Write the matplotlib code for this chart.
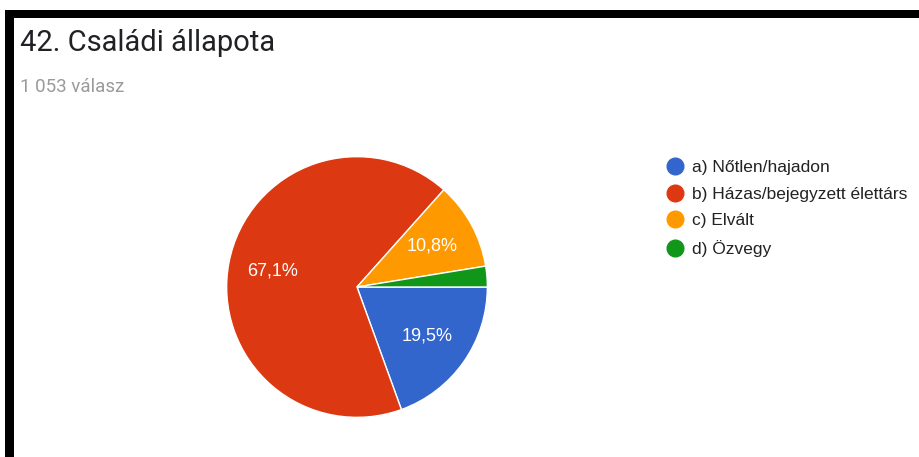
import matplotlib
matplotlib.use('Agg')
import matplotlib.pyplot as plt
from matplotlib.patches import Rectangle
from matplotlib.lines import Line2D

plt.rcParams['font.family'] = ['Roboto', 'DejaVu Sans']

# answers to question 42 (1 053 responses)
labels = ['a) Nőtlen/hajadon', 'b) Házas/bejegyzett élettárs', 'c) Elvált', 'd) Özvegy']
counts = [205, 707, 114, 27]
colors = ['#3366cc', '#dc3912', '#ff9900', '#109618']
title = '42. Családi állapota'
subtitle = '1 053 válasz'

W, H = 919, 457
fig = plt.figure(figsize=(W / 100, H / 100), dpi=100)
fig.patch.set_facecolor('white')

# black frame along the top and left edge
fig.patches.append(Rectangle((5 / W, 0), 9 / W, (H - 10) / H, transform=fig.transFigure,
                             facecolor='black', edgecolor='none'))
fig.patches.append(Rectangle((5 / W, (H - 18) / H), (W - 5) / W, 8 / H, transform=fig.transFigure,
                             facecolor='black', edgecolor='none'))

fig.text(20 / W, 1 - 43 / H, title, fontsize=21, color='#202124', va='center', ha='left')
fig.text(20 / W, 1 - 87 / H, subtitle, fontsize=13.5, color='#9a9a9a', va='center', ha='left')


def pct_label(p):
    if p < 5:
        return ''
    return ('%.1f%%' % p).replace('.', ',')


cx, cy, r = 357, 287, 131
ax = fig.add_axes([(cx - r) / W, (H - cy - r) / H, 2 * r / W, 2 * r / H])
wedges, texts, autotexts = ax.pie(counts, colors=colors, startangle=0, counterclock=False,
                                  autopct=pct_label, pctdistance=0.66,
                                  wedgeprops=dict(edgecolor='white', linewidth=1))
for t in autotexts:
    t.set_color('white')
    t.set_fontsize(13)
    t.set_family(['Liberation Sans', 'DejaVu Sans'])
ax.set_xlim(-1.005, 1.005)
ax.set_ylim(-1.005, 1.005)
ax.set_aspect('equal')
ax.axis('off')

handles = [Line2D([], [], marker='o', linestyle='none', markersize=12,
                  markerfacecolor=c, markeredgecolor=c) for c in colors]
leg = fig.legend(handles, labels, loc='upper left', bbox_to_anchor=(668 / W, 1 - 160 / H),
                 frameon=False, prop={'family': ['Liberation Sans', 'DejaVu Sans'], 'size': 12.5},
                 labelcolor='#222222', handlelength=0.8, handletextpad=0.6,
                 labelspacing=0.66, borderaxespad=0, borderpad=0)

plt.savefig('out.png', dpi=100, facecolor='white')
